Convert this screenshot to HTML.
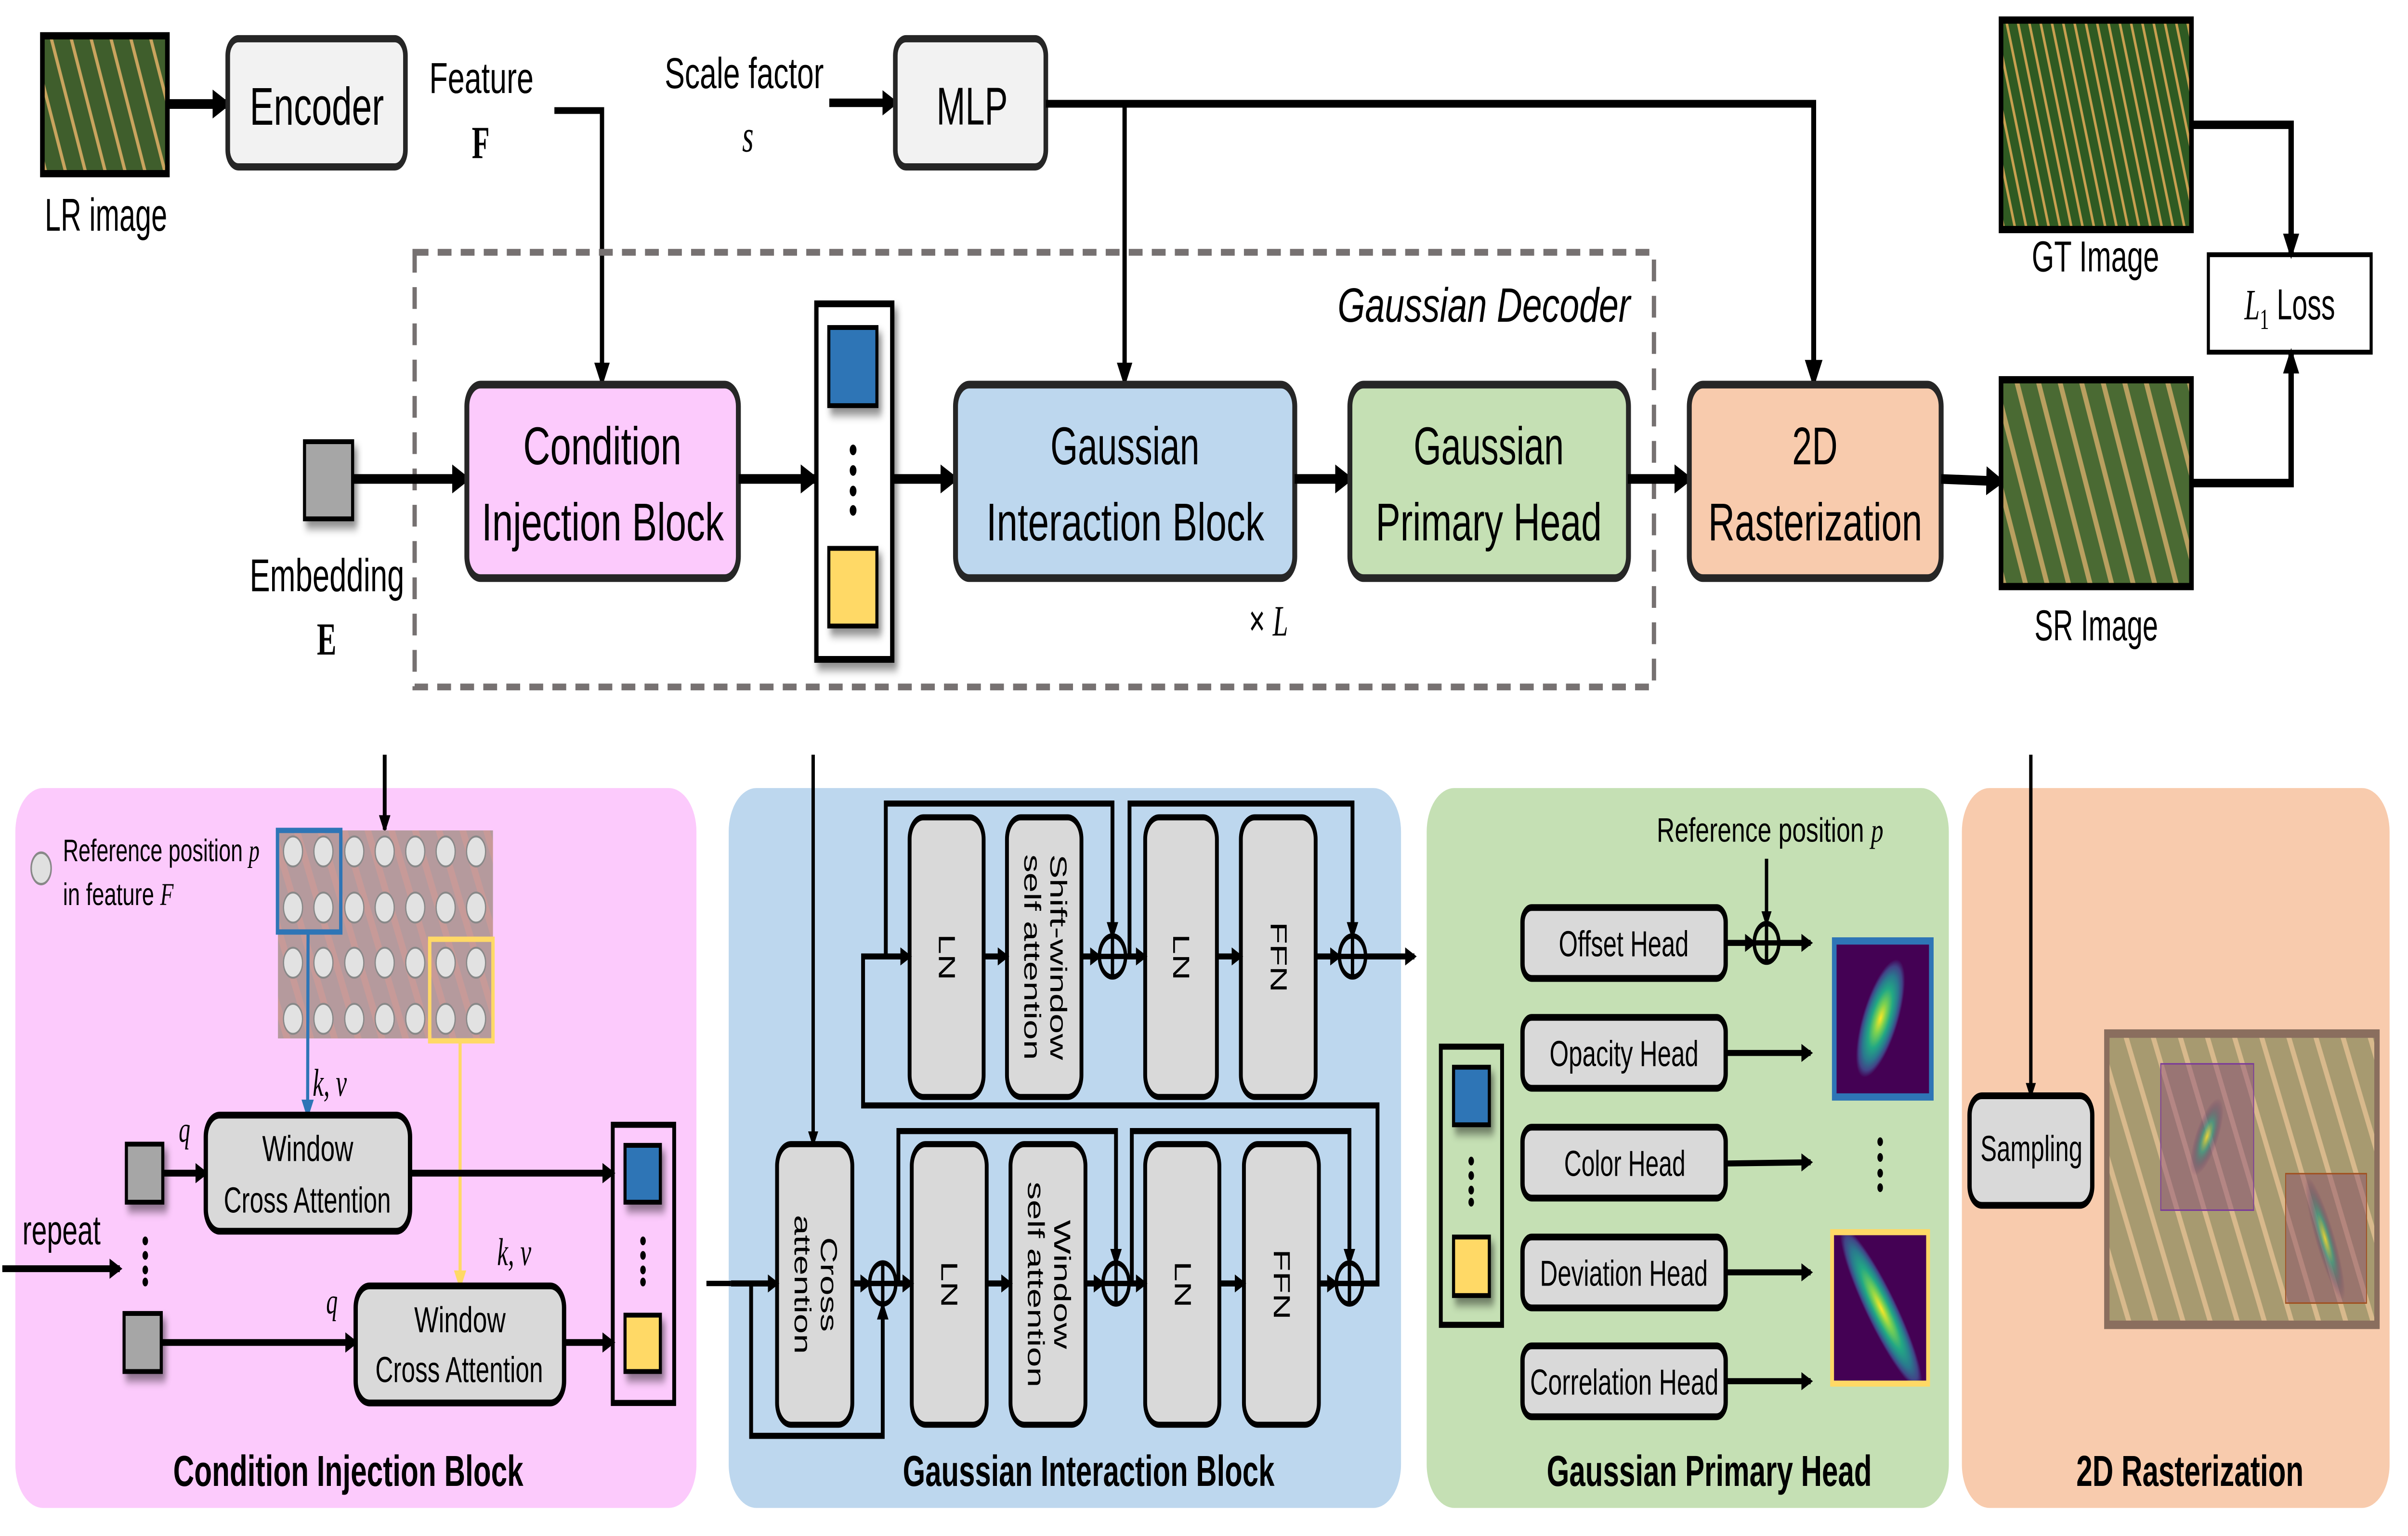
<!DOCTYPE html>
<html><head><meta charset="utf-8"><style>
html,body{margin:0;padding:0;background:#fff;width:100%;height:100%;overflow:hidden;}
svg{display:block;width:100vw;height:100vh;}
text{font-family:"Liberation Sans Narrow","Liberation Sans",sans-serif;fill:#000;}
.m{font-family:"Liberation Serif",serif;font-style:italic;}
</style></head><body>
<svg xmlns="http://www.w3.org/2000/svg" viewBox="0 0 1568 635" preserveAspectRatio="none">
<defs>
<marker id="ah" viewBox="0 0 10 10" refX="8" refY="5" markerWidth="3" markerHeight="3" orient="auto" markerUnits="strokeWidth"><path d="M0,0L10,5L0,10z" fill="#000"/></marker>
<marker id="at" viewBox="0 0 10 10" refX="8" refY="5" markerWidth="3.6" markerHeight="3.6" orient="auto" markerUnits="strokeWidth"><path d="M0,0L10,5L0,10z" fill="#000"/></marker>
<marker id="ab" viewBox="0 0 10 10" refX="8" refY="5" markerWidth="4" markerHeight="4" orient="auto" markerUnits="strokeWidth"><path d="M0,0L10,5L0,10z" fill="#2e75b6"/></marker>
<marker id="ay" viewBox="0 0 10 10" refX="8" refY="5" markerWidth="4" markerHeight="4" orient="auto" markerUnits="strokeWidth"><path d="M0,0L10,5L0,10z" fill="#ffd966"/></marker>
<filter id="sh" x="-50%" y="-50%" width="200%" height="200%"><feDropShadow dx="2" dy="3" stdDeviation="1.8" flood-color="#000" flood-opacity="0.45"/></filter>
<pattern id="fld" width="12" height="12" patternUnits="userSpaceOnUse" patternTransform="rotate(-22)"><rect width="12" height="12" fill="#3f5e2c"/><rect x="0" width="2" height="12" fill="#c9a45e"/></pattern>
<pattern id="fldsr" width="13" height="13" patternUnits="userSpaceOnUse" patternTransform="rotate(-22)"><rect width="13" height="13" fill="#4a6a33"/><rect x="0" width="3" height="13" fill="#b9a060"/></pattern>
<pattern id="fldgt" width="7" height="7" patternUnits="userSpaceOnUse" patternTransform="rotate(-18)"><rect width="7" height="7" fill="#2f5a22"/><rect x="0" width="1.6" height="7" fill="#c8a050"/></pattern>
<pattern id="ras" width="16" height="16" patternUnits="userSpaceOnUse" patternTransform="rotate(-25)"><rect width="16" height="16" fill="#a79a70"/><rect x="0" width="3" height="16" fill="#d8b98c"/></pattern>
<pattern id="grd" width="14" height="14" patternUnits="userSpaceOnUse" patternTransform="rotate(-25)"><rect width="14" height="14" fill="#b59a9d"/><rect x="0" width="4" height="14" fill="#c79a98"/></pattern>
<radialGradient id="vir"><stop offset="0" stop-color="#fde725"/><stop offset="0.25" stop-color="#7ad151"/><stop offset="0.5" stop-color="#22a884"/><stop offset="0.72" stop-color="#2a788e"/><stop offset="0.88" stop-color="#414487"/><stop offset="1" stop-color="#440154"/></radialGradient>
<radialGradient id="virf"><stop offset="0" stop-color="#fde725" stop-opacity="0.8"/><stop offset="0.4" stop-color="#22a884" stop-opacity="0.6"/><stop offset="1" stop-color="#440154" stop-opacity="0"/></radialGradient>
<clipPath id="c1"><rect x="1194.4" y="389" width="63.2" height="64.5"/></clipPath>
<clipPath id="c2"><rect x="1193" y="509.4" width="62.5" height="62.6"/></clipPath>
</defs>

<!-- ===== TOP ===== -->
<rect x="27.6" y="14.8" width="81.4" height="57" fill="url(#fld)" stroke="#000" stroke-width="3"/>
<text x="69" y="95.4" font-size="19" text-anchor="middle" textLength="79.7" lengthAdjust="spacingAndGlyphs">LR image</text>
<line x1="109" y1="43" x2="148" y2="43" stroke="#000" stroke-width="4" marker-end="url(#ah)"/>
<rect x="148.3" y="16" width="115.7" height="53" rx="7" fill="#f2f2f2" stroke="#262626" stroke-width="3"/>
<text x="206.3" y="51.6" font-size="22" text-anchor="middle" textLength="87.4" lengthAdjust="spacingAndGlyphs">Encoder</text>

<text x="313.5" y="38.4" font-size="18" text-anchor="middle" textLength="67.9" lengthAdjust="spacingAndGlyphs">Feature</text>
<text x="313" y="65.3" font-size="19" font-weight="bold" text-anchor="middle" style="font-family:'Liberation Serif',serif">F</text>
<path d="M361,45.7H392V158" fill="none" stroke="#000" stroke-width="2.8" marker-end="url(#at)"/>

<text x="484.6" y="36.4" font-size="18" text-anchor="middle" textLength="103.6" lengthAdjust="spacingAndGlyphs">Scale factor</text>
<text x="487" y="62.6" font-size="19" text-anchor="middle" class="m">s</text>
<line x1="540" y1="42.5" x2="583" y2="42.5" stroke="#000" stroke-width="3.5" marker-end="url(#ah)"/>
<rect x="583" y="16" width="98" height="53" rx="7" fill="#f2f2f2" stroke="#262626" stroke-width="3"/>
<text x="633" y="51.5" font-size="22" text-anchor="middle" textLength="46.4" lengthAdjust="spacingAndGlyphs">MLP</text>
<path d="M681,42.9H1181V158" fill="none" stroke="#000" stroke-width="3.2" marker-end="url(#at)"/>
<line x1="732.3" y1="42.9" x2="732.3" y2="158" stroke="#000" stroke-width="2.8" marker-end="url(#at)"/>

<rect x="270" y="104.3" width="807" height="179.7" fill="none" stroke="#767171" stroke-width="2.8" stroke-dasharray="9 6"/>
<text x="1061.6" y="133" font-size="20" text-anchor="end" font-style="italic" textLength="190.6" lengthAdjust="spacingAndGlyphs">Gaussian Decoder</text>

<rect x="198.3" y="182.6" width="31.3" height="31.9" fill="#a6a6a6" stroke="#000" stroke-width="2" filter="url(#sh)"/>
<text x="212.9" y="244.4" font-size="19" text-anchor="middle" textLength="100.7" lengthAdjust="spacingAndGlyphs">Embedding</text>
<text x="212.7" y="270.6" font-size="19" font-weight="bold" text-anchor="middle" style="font-family:'Liberation Serif',serif">E</text>
<line x1="230" y1="198" x2="304" y2="198" stroke="#000" stroke-width="4" marker-end="url(#ah)"/>

<rect x="304" y="159" width="176.8" height="80" rx="9" fill="#fccafc" stroke="#262626" stroke-width="3.2"/>
<text x="392.2" y="192" font-size="22" text-anchor="middle" textLength="103" lengthAdjust="spacingAndGlyphs">Condition</text>
<text x="392.5" y="223.4" font-size="22" text-anchor="middle" textLength="157.7" lengthAdjust="spacingAndGlyphs">Injection Block</text>
<line x1="481" y1="198" x2="531" y2="198" stroke="#000" stroke-width="4" marker-end="url(#ah)"/>

<rect x="531.6" y="125.6" width="49.4" height="147" fill="#fff" stroke="#000" stroke-width="2.8" filter="url(#sh)"/>
<rect x="539.7" y="135.4" width="31.3" height="32.3" fill="#2e75b6" stroke="#000" stroke-width="2" filter="url(#sh)"/>
<rect x="539.7" y="226.7" width="31.3" height="32.1" fill="#ffd966" stroke="#000" stroke-width="2" filter="url(#sh)"/>
<g fill="#000"><circle cx="555.5" cy="186" r="2.2"/><circle cx="555.5" cy="194.5" r="2.2"/><circle cx="555.5" cy="203" r="2.2"/><circle cx="555.5" cy="211" r="2.2"/></g>
<line x1="581" y1="198" x2="622" y2="198" stroke="#000" stroke-width="4" marker-end="url(#ah)"/>

<rect x="622.2" y="159" width="220.9" height="80" rx="9" fill="#bdd7ee" stroke="#262626" stroke-width="3.2"/>
<text x="732.5" y="192" font-size="22" text-anchor="middle" textLength="97" lengthAdjust="spacingAndGlyphs">Gaussian</text>
<text x="732.7" y="223.4" font-size="22" text-anchor="middle" textLength="181" lengthAdjust="spacingAndGlyphs">Interaction Block</text>
<line x1="843" y1="198" x2="879" y2="198" stroke="#000" stroke-width="4" marker-end="url(#ah)"/>

<rect x="879" y="159" width="181.4" height="80" rx="9" fill="#c5e0b4" stroke="#262626" stroke-width="3.2"/>
<text x="969.4" y="192" font-size="22" text-anchor="middle" textLength="97.8" lengthAdjust="spacingAndGlyphs">Gaussian</text>
<text x="969.4" y="223.4" font-size="22" text-anchor="middle" textLength="147.2" lengthAdjust="spacingAndGlyphs">Primary Head</text>
<line x1="1060" y1="198" x2="1100" y2="198" stroke="#000" stroke-width="4" marker-end="url(#ah)"/>

<rect x="1100" y="159" width="164" height="80" rx="9" fill="#f8cbad" stroke="#262626" stroke-width="3.2"/>
<text x="1181.8" y="192" font-size="22" text-anchor="middle" textLength="29.6" lengthAdjust="spacingAndGlyphs">2D</text>
<text x="1182" y="223.4" font-size="22" text-anchor="middle" textLength="139.3" lengthAdjust="spacingAndGlyphs">Rasterization</text>
<line x1="1264" y1="198" x2="1303" y2="199" stroke="#000" stroke-width="4" marker-end="url(#ah)"/>

<text x="826" y="262.7" font-size="18" text-anchor="middle">× <tspan class="m">L</tspan></text>

<rect x="1303" y="8.3" width="124" height="86.6" fill="url(#fldgt)" stroke="#000" stroke-width="3"/>
<text x="1364.5" y="112.2" font-size="18" text-anchor="middle" textLength="83" lengthAdjust="spacingAndGlyphs">GT Image</text>
<rect x="1303" y="157" width="124" height="85.5" fill="url(#fldsr)" stroke="#000" stroke-width="3"/>
<text x="1365" y="264.7" font-size="18" text-anchor="middle" textLength="80.5" lengthAdjust="spacingAndGlyphs">SR Image</text>
<rect x="1438" y="105.3" width="106" height="40.3" fill="#fff" stroke="#000" stroke-width="2"/>
<text x="1491" y="132" font-size="18" text-anchor="middle"><tspan class="m">L</tspan><tspan font-size="12" dy="4" class="m" style="font-style:normal">1</tspan><tspan dy="-4"> Loss</tspan></text>
<path d="M1427,51.6H1491.9V105" fill="none" stroke="#000" stroke-width="3.5" marker-end="url(#ah)"/>
<path d="M1427,199.7H1491.9V146" fill="none" stroke="#000" stroke-width="3.5" marker-end="url(#ah)"/>

<!-- ===== BOTTOM PANELS ===== -->
<rect x="10" y="325.8" width="443.5" height="297.6" rx="18" fill="#fccafc"/>
<rect x="474.5" y="325.8" width="437.8" height="297.6" rx="18" fill="#bdd7ee"/>
<rect x="929" y="325.8" width="340" height="297.6" rx="18" fill="#c5e0b4"/>
<rect x="1277.5" y="325.8" width="278.5" height="297.6" rx="18" fill="#f8cbad"/>

<!-- Condition injection panel -->
<line x1="250.5" y1="312" x2="250.5" y2="343" stroke="#000" stroke-width="2.5" marker-end="url(#ah)"/>
<circle cx="26.8" cy="359" r="6.5" fill="#e0e0e0" stroke="#888" stroke-width="1"/>
<text x="41" y="356" font-size="13" textLength="128" lengthAdjust="spacingAndGlyphs">Reference position <tspan class="m">p</tspan></text>
<text x="41" y="374.2" font-size="13" textLength="72" lengthAdjust="spacingAndGlyphs">in feature <tspan class="m">F</tspan></text>
<rect x="181" y="343.3" width="140" height="86" fill="url(#grd)"/>
<g fill="#e2e2e2" stroke="#888" stroke-width="0.8">
<circle cx="190.8" cy="352" r="6.2"/><circle cx="210.6" cy="352" r="6.2"/><circle cx="230.7" cy="352" r="6.2"/><circle cx="250.5" cy="352" r="6.2"/><circle cx="270.4" cy="352" r="6.2"/><circle cx="290.2" cy="352" r="6.2"/><circle cx="310" cy="352" r="6.2"/>
<circle cx="190.8" cy="375.2" r="6.2"/><circle cx="210.6" cy="375.2" r="6.2"/><circle cx="230.7" cy="375.2" r="6.2"/><circle cx="250.5" cy="375.2" r="6.2"/><circle cx="270.4" cy="375.2" r="6.2"/><circle cx="290.2" cy="375.2" r="6.2"/><circle cx="310" cy="375.2" r="6.2"/>
<circle cx="190.8" cy="398" r="6.2"/><circle cx="210.6" cy="398" r="6.2"/><circle cx="230.7" cy="398" r="6.2"/><circle cx="250.5" cy="398" r="6.2"/><circle cx="270.4" cy="398" r="6.2"/><circle cx="290.2" cy="398" r="6.2"/><circle cx="310" cy="398" r="6.2"/>
<circle cx="190.8" cy="421.2" r="6.2"/><circle cx="210.6" cy="421.2" r="6.2"/><circle cx="230.7" cy="421.2" r="6.2"/><circle cx="250.5" cy="421.2" r="6.2"/><circle cx="270.4" cy="421.2" r="6.2"/><circle cx="290.2" cy="421.2" r="6.2"/><circle cx="310" cy="421.2" r="6.2"/>
</g>
<rect x="180.7" y="343.3" width="41.2" height="42" fill="none" stroke="#2e75b6" stroke-width="2.2"/>
<rect x="279.8" y="388.3" width="41.2" height="42" fill="none" stroke="#ffd966" stroke-width="2.2"/>
<line x1="200.6" y1="385.3" x2="200.3" y2="461" stroke="#2e75b6" stroke-width="2" marker-end="url(#ab)"/>
<line x1="299.6" y1="430.3" x2="299.6" y2="531.6" stroke="#ffd966" stroke-width="2" marker-end="url(#ay)"/>
<text x="203.6" y="453" font-size="16" class="m">k, v</text>
<text x="323.7" y="523" font-size="16" class="m">k, v</text>
<text x="116.4" y="472" font-size="15" class="m">q</text>
<text x="212.4" y="543" font-size="15" class="m">q</text>

<rect x="82.3" y="473" width="23.7" height="24" fill="#a6a6a6" stroke="#000" stroke-width="2" filter="url(#sh)"/>
<rect x="80.8" y="543" width="24.2" height="24" fill="#a6a6a6" stroke="#000" stroke-width="2" filter="url(#sh)"/>
<g fill="#000"><circle cx="94.6" cy="513" r="1.8"/><circle cx="94.6" cy="519" r="1.8"/><circle cx="94.6" cy="525" r="1.8"/><circle cx="94.6" cy="530" r="1.8"/></g>
<text x="14.6" y="514.4" font-size="17" textLength="50.9" lengthAdjust="spacingAndGlyphs">repeat</text>
<line x1="1.5" y1="524.5" x2="78" y2="524.5" stroke="#000" stroke-width="2.8" marker-end="url(#ah)"/>
<line x1="106" y1="485" x2="134" y2="485" stroke="#000" stroke-width="2.8" marker-end="url(#ah)"/>
<line x1="105" y1="555" x2="231.6" y2="555" stroke="#000" stroke-width="2.8" marker-end="url(#ah)"/>

<rect x="134" y="461" width="133" height="48" rx="9" fill="#d9d9d9" stroke="#000" stroke-width="2.8"/>
<text x="200.4" y="480" font-size="15" text-anchor="middle" textLength="59.3" lengthAdjust="spacingAndGlyphs">Window</text>
<text x="200.1" y="501.3" font-size="15" text-anchor="middle" textLength="108.8" lengthAdjust="spacingAndGlyphs">Cross Attention</text>
<rect x="231.6" y="531.6" width="135.7" height="48.4" rx="9" fill="#d9d9d9" stroke="#000" stroke-width="2.8"/>
<text x="299.5" y="550.8" font-size="15" text-anchor="middle" textLength="59.5" lengthAdjust="spacingAndGlyphs">Window</text>
<text x="299" y="571.4" font-size="15" text-anchor="middle" textLength="109.2" lengthAdjust="spacingAndGlyphs">Cross Attention</text>
<line x1="267" y1="485" x2="399" y2="485" stroke="#000" stroke-width="2.8" marker-end="url(#ah)"/>
<line x1="367.3" y1="555" x2="399" y2="555" stroke="#000" stroke-width="2.8" marker-end="url(#ah)"/>
<rect x="399" y="465" width="40" height="115" fill="none" stroke="#000" stroke-width="2.5"/>
<rect x="407" y="473.5" width="23" height="23.5" fill="#2e75b6" stroke="#000" stroke-width="2" filter="url(#sh)"/>
<rect x="407" y="543.7" width="23" height="23.3" fill="#ffd966" stroke="#000" stroke-width="2" filter="url(#sh)"/>
<g fill="#000"><circle cx="418.7" cy="513" r="1.8"/><circle cx="418.7" cy="519" r="1.8"/><circle cx="418.7" cy="525" r="1.8"/><circle cx="418.7" cy="530" r="1.8"/></g>
<text x="226.8" y="614.3" font-size="18" font-weight="bold" text-anchor="middle" textLength="228" lengthAdjust="spacingAndGlyphs">Condition Injection Block</text>

<!-- Gaussian interaction panel -->
<line x1="460" y1="530.6" x2="476" y2="530.6" stroke="#000" stroke-width="2.2"/>
<line x1="529.5" y1="312" x2="529.5" y2="473" stroke="#000" stroke-width="2.2" marker-end="url(#ah)"/>
<g fill="#d9d9d9" stroke="#000" stroke-width="2.5">
<rect x="506" y="473" width="49" height="116" rx="9"/>
<rect x="593.7" y="473" width="48.8" height="116" rx="9"/>
<rect x="658" y="473" width="48.8" height="116" rx="9"/>
<rect x="745.7" y="473" width="48.3" height="116" rx="9"/>
<rect x="810" y="473" width="48.8" height="116" rx="9"/>
<rect x="592.3" y="337.9" width="48.2" height="115.6" rx="9"/>
<rect x="655.7" y="337.9" width="48.5" height="115.6" rx="9"/>
<rect x="745.7" y="337.9" width="46.7" height="115.6" rx="9"/>
<rect x="808" y="337.9" width="48.7" height="115.6" rx="9"/>
</g>
<g font-size="15" text-anchor="middle" style="font-family:'Liberation Sans',sans-serif">
<text transform="translate(530.5,531) rotate(90)"><tspan x="0" y="-4">Cross</tspan><tspan x="0" y="13">attention</tspan></text>
<text transform="translate(618,531) rotate(90)" y="5">LN</text>
<text transform="translate(682.4,531) rotate(90)"><tspan x="0" y="-4">Window</tspan><tspan x="0" y="13">self attention</tspan></text>
<text transform="translate(770,531) rotate(90)" y="5">LN</text>
<text transform="translate(834.4,531) rotate(90)" y="5">FFN</text>
<text transform="translate(616.4,395.7) rotate(90)" y="5">LN</text>
<text transform="translate(680,395.7) rotate(90)"><tspan x="0" y="-4">Shift-window</tspan><tspan x="0" y="13">self attention</tspan></text>
<text transform="translate(769,395.7) rotate(90)" y="5">LN</text>
<text transform="translate(832.4,395.7) rotate(90)" y="5">FFN</text>
</g>
<g fill="none" stroke="#000" stroke-width="2.2">
<circle cx="574.8" cy="530.6" r="8.5"/><path d="M566.3,530.6H583.3M574.8,522.1V539.1"/>
<circle cx="726.7" cy="530.6" r="8.5"/><path d="M718.2,530.6H735.2M726.7,522.1V539.1"/>
<circle cx="878.7" cy="530.6" r="8.5"/><path d="M870.2,530.6H887.2M878.7,522.1V539.1"/>
<circle cx="724.4" cy="395.4" r="8.5"/><path d="M715.9,395.4H732.9M724.4,386.9V403.9"/>
<circle cx="880.7" cy="395.4" r="8.5"/><path d="M872.2,395.4H889.2M880.7,386.9V403.9"/>
</g>
<g stroke="#000" stroke-width="2.5" fill="none" marker-end="url(#ah)">
<line x1="476" y1="530.6" x2="506" y2="530.6"/>
<line x1="555" y1="530.6" x2="566.3" y2="530.6"/>
<line x1="583.3" y1="530.6" x2="593.7" y2="530.6"/>
<line x1="642.5" y1="530.6" x2="658" y2="530.6"/>
<line x1="706.8" y1="530.6" x2="718.2" y2="530.6"/>
<line x1="735.2" y1="530.6" x2="745.7" y2="530.6"/>
<line x1="794" y1="530.6" x2="810" y2="530.6"/>
<line x1="858.8" y1="530.6" x2="870.2" y2="530.6"/>
<path d="M489.1,530.6V593.6H574.8V539.5"/>
<path d="M585,530.6V467.6H726.7V522.3"/>
<path d="M737,530.6V467.6H878.7V522.3"/>
<path d="M887.2,530.6H897V457H562V395.4H592.3"/>
<line x1="640.5" y1="395.4" x2="655.7" y2="395.4"/>
<line x1="704.2" y1="395.4" x2="715.9" y2="395.4"/>
<line x1="732.9" y1="395.4" x2="745.7" y2="395.4"/>
<line x1="792.4" y1="395.4" x2="808" y2="395.4"/>
<line x1="856.7" y1="395.4" x2="872.2" y2="395.4"/>
<line x1="889.2" y1="395.4" x2="921" y2="395.4"/>
<path d="M576.8,395.4V332.2H724.4V387.2"/>
<path d="M735.5,395.4V332.2H880.7V387.2"/>
</g>
<text x="708.9" y="614.3" font-size="18" font-weight="bold" text-anchor="middle" textLength="242" lengthAdjust="spacingAndGlyphs">Gaussian Interaction Block</text>

<!-- Gaussian primary head panel -->
<text x="1152.6" y="348" font-size="14" text-anchor="middle" textLength="147.6" lengthAdjust="spacingAndGlyphs">Reference position <tspan class="m">p</tspan></text>
<line x1="1150.3" y1="355" x2="1150.3" y2="382" stroke="#000" stroke-width="2.2" marker-end="url(#ah)"/>
<rect x="938.2" y="432.7" width="39.9" height="115" fill="none" stroke="#000" stroke-width="2.5"/>
<rect x="946.5" y="441.2" width="23.3" height="23.8" fill="#2e75b6" stroke="#000" stroke-width="2" filter="url(#sh)"/>
<rect x="946.5" y="511.4" width="23.3" height="24.2" fill="#ffd966" stroke="#000" stroke-width="2" filter="url(#sh)"/>
<g fill="#000"><circle cx="958" cy="480" r="1.8"/><circle cx="958" cy="486" r="1.8"/><circle cx="958" cy="492" r="1.8"/><circle cx="958" cy="497" r="1.8"/></g>
<g fill="#d9d9d9" stroke="#000" stroke-width="2.8">
<rect x="991.4" y="375.2" width="132.3" height="29.3" rx="6"/>
<rect x="991.4" y="420.6" width="132.3" height="29.3" rx="6"/>
<rect x="991.4" y="466" width="132.3" height="29.3" rx="6"/>
<rect x="991.4" y="511.4" width="132.3" height="29.3" rx="6"/>
<rect x="991.4" y="556.4" width="132.3" height="29.3" rx="6"/>
</g>
<g font-size="15" text-anchor="middle">
<text x="1057.3" y="395.4" textLength="84.6" lengthAdjust="spacingAndGlyphs">Offset Head</text>
<text x="1057.5" y="440.8" textLength="97" lengthAdjust="spacingAndGlyphs">Opacity Head</text>
<text x="1058" y="486.2" textLength="79" lengthAdjust="spacingAndGlyphs">Color Head</text>
<text x="1057.4" y="531.6" textLength="109.3" lengthAdjust="spacingAndGlyphs">Deviation Head</text>
<text x="1057.7" y="576.6" textLength="122.7" lengthAdjust="spacingAndGlyphs">Correlation Head</text>
</g>
<g fill="none" stroke="#000" stroke-width="2.2">
<circle cx="1150.3" cy="389.8" r="8"/><path d="M1142.3,389.8H1158.3M1150.3,381.8V397.8"/>
</g>
<g stroke="#000" stroke-width="2.5" marker-end="url(#ah)">
<line x1="1123.7" y1="389.8" x2="1142.3" y2="389.8"/>
<line x1="1158.3" y1="389.8" x2="1179" y2="389.8"/>
<line x1="1123.7" y1="435.3" x2="1179" y2="435.3"/>
<line x1="1123.7" y1="481" x2="1179" y2="480.5"/>
<line x1="1123.7" y1="526" x2="1179" y2="526"/>
<line x1="1123.7" y1="571" x2="1179" y2="571"/>
</g>
<rect x="1194.4" y="389" width="63.2" height="64.5" fill="#440154"/>
<g clip-path="url(#c1)"><ellipse cx="1224.5" cy="421" rx="11" ry="27" transform="rotate(28 1224.5 421)" fill="url(#vir)"/></g>
<rect x="1194.4" y="389" width="63.2" height="64.5" fill="none" stroke="#2e75b6" stroke-width="3"/>
<rect x="1193" y="509.4" width="62.5" height="62.6" fill="#440154"/>
<g clip-path="url(#c2)"><ellipse cx="1225" cy="541" rx="42" ry="9" transform="rotate(52 1225 541)" fill="url(#vir)"/></g>
<rect x="1193" y="509.4" width="62.5" height="62.6" fill="none" stroke="#ffd966" stroke-width="2.5"/>
<g fill="#000"><circle cx="1224.3" cy="472" r="1.8"/><circle cx="1224.3" cy="478.5" r="1.8"/><circle cx="1224.3" cy="485" r="1.8"/><circle cx="1224.3" cy="491" r="1.8"/></g>
<text x="1113" y="614.3" font-size="18" font-weight="bold" text-anchor="middle" textLength="211.7" lengthAdjust="spacingAndGlyphs">Gaussian Primary Head</text>

<!-- 2D rasterization panel -->
<line x1="1322.4" y1="312" x2="1322.4" y2="453" stroke="#000" stroke-width="2.2" marker-end="url(#ah)"/>
<rect x="1282.5" y="453" width="79.9" height="45.3" rx="8" fill="#d9d9d9" stroke="#000" stroke-width="2.8"/>
<text x="1322.8" y="480" font-size="15" text-anchor="middle" textLength="66.4" lengthAdjust="spacingAndGlyphs">Sampling</text>
<rect x="1371.9" y="427.3" width="175.9" height="120.4" fill="url(#ras)" stroke="#8a6e5e" stroke-width="3.5"/>
<rect x="1407" y="439.8" width="60.5" height="60.5" fill="#8a4a7a" fill-opacity="0.45" stroke="#7a3a9a" stroke-width="0.6"/>
<ellipse cx="1437" cy="470" rx="7" ry="18" transform="rotate(30 1437 470)" fill="url(#virf)"/>
<rect x="1488.3" y="485.2" width="52.7" height="53.5" fill="#8a4a6a" fill-opacity="0.45" stroke="#a05020" stroke-width="0.6"/>
<ellipse cx="1514" cy="512" rx="6" ry="28" transform="rotate(-25 1514 512)" fill="url(#virf)"/>
<text x="1426" y="614.3" font-size="18" font-weight="bold" text-anchor="middle" textLength="148" lengthAdjust="spacingAndGlyphs">2D Rasterization</text>
</svg>
</body></html>
